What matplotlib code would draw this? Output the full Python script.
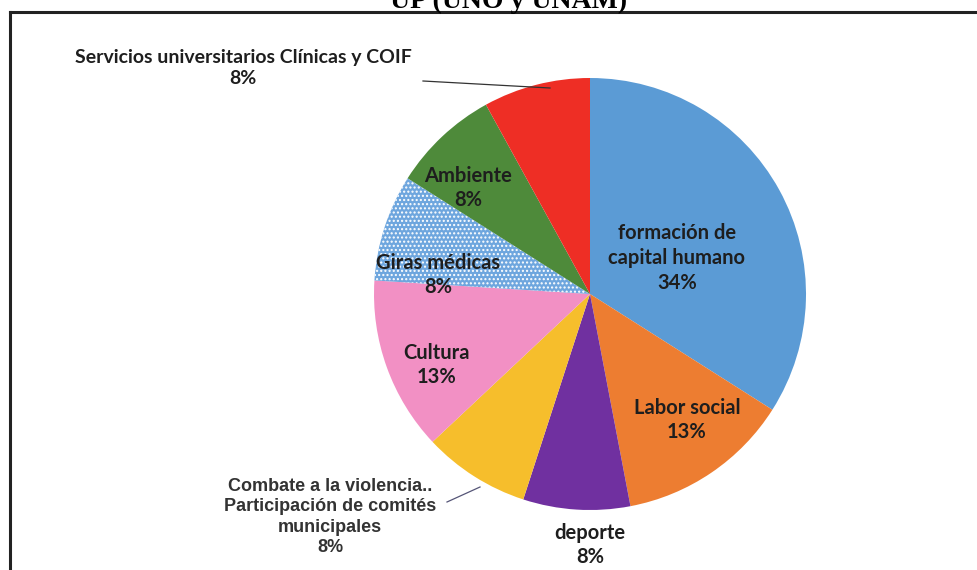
import matplotlib.pyplot as plt

# reparto de proyectos por tipo (porcentajes)
categorias = ["formación de\ncapital humano", "Labor social", "deporte",
              "Combate a la violencia..\nParticipación de comités\nmunicipales",
              "Cultura", "Giras médicas", "Ambiente",
              "Servicios universitarios Clínicas y COIF"]
valores = [34, 13, 8, 8, 13, 8, 8, 8]
colores = ["#5B9BD5", "#ED7D31", "#7030A0", "#F6BE2C",
           "#F290C4", "#6EA6DE", "#4E8A3A", "#EE2E25"]

W, H = 977, 570
fig = plt.figure(figsize=(W / 100, H / 100), dpi=100)
ax = fig.add_axes([0, 0, 1, 1])

cx, cy, R = 590, H - 294, 216
wedges, _ = ax.pie(valores, colors=colores, startangle=90, counterclock=False,
                   center=(cx, cy), radius=R, frame=True,
                   wedgeprops=dict(linewidth=0))
ax.set_xlim(0, W)
ax.set_ylim(0, H)
ax.set_aspect("equal")
ax.axis("off")

# giras médicas con trama de puntos
wedges[5].set_hatch("....")
wedges[5].set_edgecolor("white")
wedges[5].set_linewidth(0)

# posiciones de las etiquetas (pixeles desde arriba)
pos = [(677, 258), (687, 420), (590, 545), (330, 517),
       (437, 365), (438, 275), (468, 188), (243, 68)]
for i, (nom, v) in enumerate(zip(categorias, valores)):
    x, y = pos[i]
    txt = f"{nom}\n{v}%"
    if i == 3:
        ax.text(x, H - y, txt, ha="center", va="center", fontsize=13,
                family="Liberation Sans", weight="bold", color="#333333",
                linespacing=1.28)
    else:
        ax.text(x, H - y, txt, ha="center", va="center",
                fontsize=14 if i == 7 else 14.5,
                family="Lato", weight="bold", color="#1e1e1e",
                linespacing=1.3)

# líneas guía de las etiquetas externas
ax.plot([423, 550], [H - 81, H - 88], color="#333333", lw=0.9)
ax.plot([447, 480], [H - 502, H - 487], color="#555577", lw=0.9)

# marco del gráfico
ax.plot([10, W], [H - 12, H - 12], color="#222222", lw=2.2)
ax.plot([10, 10], [H - 12, 0], color="#222222", lw=2.2)

# título (cortado arriba)
ax.text(627, H - 8, "UP (UNO y UNAM)", ha="right", va="baseline",
        family="Liberation Serif", weight="bold", fontsize=20, clip_on=False)

fig.savefig("out.png", dpi=100, facecolor="white")
